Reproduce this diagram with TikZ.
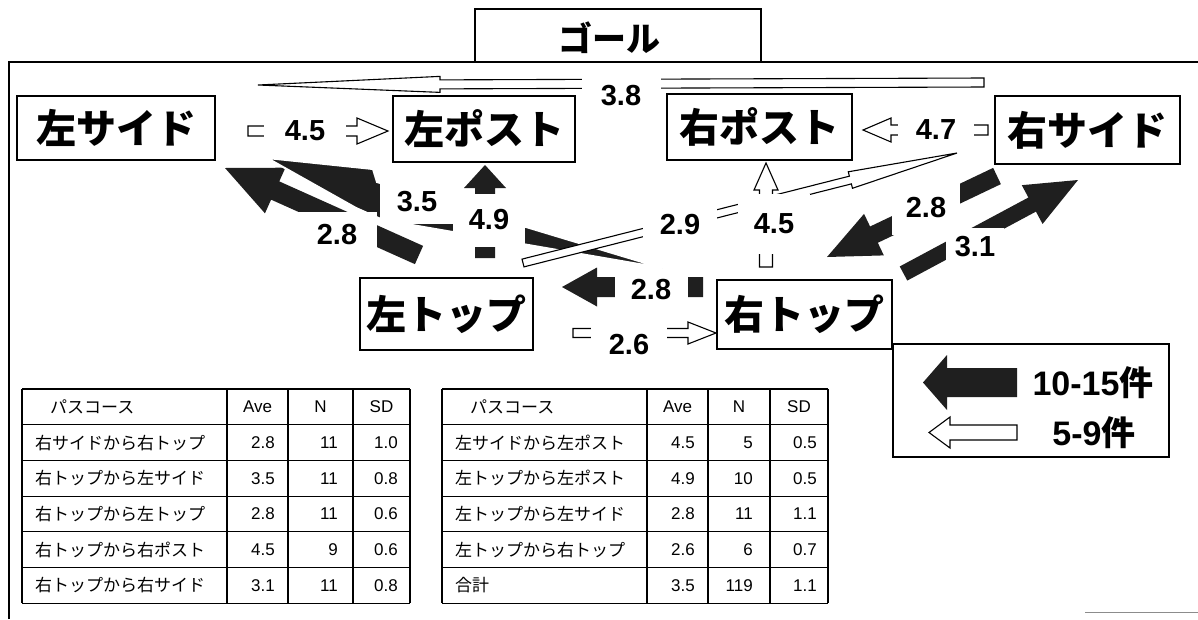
\documentclass[tikz,border=0pt]{standalone}
\usepackage{fontspec}
\setmainfont{Liberation Sans}
\newfontfamily\jp{Noto Sans CJK JP}
\usetikzlibrary{calc}

% block arrow: style, from, to, shaft half width, head half width, head length
\newcommand\blockarrow[6]{%
  \path[#1] ($(#2)!#4!90:(#3)$)
   -- ($(#3)!#6!(#2)!#4!-90:(#2)$)
   -- ($(#3)!#6!(#2)!#5!-90:(#2)$)
   -- (#3)
   -- ($(#3)!#6!(#2)!#5!90:(#2)$)
   -- ($(#3)!#6!(#2)!#4!90:(#2)$)
   -- ($(#2)!#4!-90:(#3)$) -- cycle;}

\tikzset{
  place/.style={draw, line width=1.3pt, fill=white, inner sep=0pt,
    font=\jp\bfseries\fontsize{40}{44}\selectfont},
  lbl/.style={fill=white, inner sep=0pt, font=\bfseries\fontsize{29}{32}\selectfont},
  blk/.style={fill=black!88},
  hol/.style={fill=white, draw=black, line width=1.1pt, line join=miter},
  tbl/.style={line width=1.2pt},
  jcell/.style={inner sep=0pt, font=\jp\fontsize{17}{20}\selectfont},
  ncell/.style={inner sep=0pt, font=\fontsize{17}{20}\selectfont},
  legtxt/.style={inner sep=0pt, font=\bfseries\fontsize{34}{38}\selectfont},
}

\begin{document}
\begin{tikzpicture}[x=1pt,y=-1pt]
\useasboundingbox (0,0) rectangle (1198,619);
\fill[white] (0,0) rectangle (1198,619);

% field and goal
\draw[line width=1.3pt] (9,619) -- (9,62) -- (1198,62);
\draw[black!45, line width=1pt] (1085,612) -- (1198,612);
\node[draw, line width=1.3pt, minimum width=286pt, minimum height=53pt, inner sep=0pt] (goalbox) at (618,35.5) {};
\node[inner sep=0pt, font=\jp\bfseries\fontsize{34}{38}\selectfont] (goaltxt) at (609,38) {ゴール};

% places
\node[place, minimum width=198pt, minimum height=64pt] (ls) at (116,128) {左サイド};
\node[place, minimum width=182pt, minimum height=66pt] (lp) at (484,129) {左ポスト};
\node[place, minimum width=185pt, minimum height=66pt] (rp) at (759.5,127) {右ポスト};
\node[place, minimum width=185pt, minimum height=68pt] (rs) at (1087.5,130) {右サイド};
\node[place, minimum width=173pt, minimum height=72pt] (lt) at (446.5,314) {左トップ};
\node[place, minimum width=175pt, minimum height=69pt] (rt) at (804.5,314.5) {右トップ};

% arrow end points
\coordinate (a28aS) at (419,255);   \coordinate (a28aE) at (225,168);
\coordinate (a49S) at (485,258);    \coordinate (a49E) at (485,165);
\coordinate (a28bS) at (703,287);   \coordinate (a28bE) at (562,287);
\coordinate (a29S) at (523,263);    \coordinate (a29E) at (957,153);
\coordinate (a45bS) at (766,267);   \coordinate (a45bE) at (766,163);
\coordinate (a28cS) at (997,176);   \coordinate (a28cE) at (827,257);
\coordinate (a31S) at (903.5,273.5);\coordinate (a31E) at (1078,180);
\coordinate (a38S) at (984,82.5);   \coordinate (a38E) at (258,85);
\coordinate (a45aS) at (248,131);   \coordinate (a45aE) at (388,131);
\coordinate (a47S) at (988,130);    \coordinate (a47E) at (863,130);
\coordinate (a26S) at (573,333);    \coordinate (a26E) at (716,333);

% left cluster
\blockarrow{blk}{a28aS}{a28aE}{10pt}{25pt}{55pt}
\fill[blk, draw=white, line width=2pt] (267,158) -- (373,169) -- (377,182) -- (662,268) -- (383,220) -- (356,208) -- cycle;
\blockarrow{blk}{a49S}{a49E}{10pt}{21pt}{23pt}
\node[lbl, minimum width=75pt, minimum height=44pt] (l35) at (417,202) {3.5};
\node[lbl, minimum width=79pt, minimum height=46pt] (l28a) at (337,235) {2.8};
\node[lbl, minimum width=72pt, minimum height=53pt] (l49) at (489,220) {4.9};

% right top to left top
\blockarrow{blk}{a28bS}{a28bE}{10pt}{19.5pt}{35pt}
\node[lbl, minimum width=73pt, minimum height=34pt] (l28b) at (651,290) {2.8};

% left top to right side, right top to right post
\blockarrow{hol}{a29S}{a29E}{4pt}{8.5pt}{110pt}
\blockarrow{hol}{a45bS}{a45bE}{6.5pt}{12pt}{27pt}
\node[lbl, minimum width=74pt, minimum height=40pt] (l29) at (680,225) {2.9};
\node[lbl, minimum width=72pt, minimum height=60pt] (l45b) at (774,224) {4.5};

% right side cluster
\blockarrow{blk}{a28cS}{a28cE}{9pt}{23pt}{52pt}
\blockarrow{blk}{a31S}{a31E}{8pt}{22pt}{52pt}
\node[lbl, minimum width=68pt, minimum height=54pt] (l28c) at (926,208) {2.8};
\node[lbl, minimum width=58pt, minimum height=38pt] (l31) at (975,247) {3.1};

% other hollow arrows
\blockarrow{hol}{a38S}{a38E}{4.5pt}{8pt}{182pt}
\node[lbl, minimum width=79pt, minimum height=42pt] (l38) at (621,96) {3.8};
\blockarrow{hol}{a45aS}{a45aE}{5pt}{13pt}{31pt}
\node[lbl, minimum width=82pt, minimum height=34pt] (l45a) at (305,131) {4.5};
\blockarrow{hol}{a47S}{a47E}{5pt}{12pt}{28pt}
\node[lbl, minimum width=76pt, minimum height=34pt] (l47) at (936,130) {4.7};
\blockarrow{hol}{a26S}{a26E}{4.5pt}{11pt}{28pt}
\node[lbl, minimum width=76pt, minimum height=46pt] (l26) at (629,345) {2.6};

% legend
\node[draw, line width=1.3pt, minimum width=276pt, minimum height=113pt, inner sep=0pt] (legend) at (1031,400.5) {};
\coordinate (lgbS) at (1017,382.5); \coordinate (lgbE) at (923,382.5);
\coordinate (lgwS) at (1017,432.5); \coordinate (lgwE) at (929,432.5);
\blockarrow{blk}{lgbS}{lgbE}{14.5pt}{27.5pt}{24pt}
\blockarrow{hol}{lgwS}{lgwE}{7.5pt}{15.5pt}{21pt}
\node[legtxt] (lg1) at (1093,383) {10-15{\jp 件}};
\node[legtxt] (lg2) at (1094,433) {5-9{\jp 件}};

% table 1
\foreach \x in {22,227,288,353,410} \draw[tbl] (\x,389) -- (\x,603.2);
\foreach \k in {0,...,6} \draw[tbl] (22,{389+35.7*\k}) -- (410,{389+35.7*\k});
\node[jcell, anchor=west] (ta-0-1) at (50,406.85) {パスコース};
\node[ncell] (ta-0-2) at (257.5,406.85) {Ave};
\node[ncell] (ta-0-3) at (320.5,406.85) {N};
\node[ncell] (ta-0-4) at (381.5,406.85) {SD};
\foreach \nm/\av/\nn/\sd [count=\i] in {右サイドから右トップ/2.8/11/1.0, 右トップから左サイド/3.5/11/0.8, 右トップから左トップ/2.8/11/0.6, 右トップから右ポスト/4.5/9/0.6, 右トップから右サイド/3.1/11/0.8}{
  \pgfmathsetmacro\yy{406.85+35.7*\i}
  \node[jcell, anchor=west] (ta-\i-1) at (35,\yy) {\nm};
  \node[ncell, anchor=east] (ta-\i-2) at (275,\yy) {\av};
  \node[ncell, anchor=east] (ta-\i-3) at (338,\yy) {\nn};
  \node[ncell, anchor=east] (ta-\i-4) at (398,\yy) {\sd};
}

% table 2
\foreach \x in {442,647,708,770,828} \draw[tbl] (\x,389) -- (\x,603.2);
\foreach \k in {0,...,6} \draw[tbl] (442,{389+35.7*\k}) -- (828,{389+35.7*\k});
\node[jcell, anchor=west] (tb-0-1) at (470,406.85) {パスコース};
\node[ncell] (tb-0-2) at (677.5,406.85) {Ave};
\node[ncell] (tb-0-3) at (739,406.85) {N};
\node[ncell] (tb-0-4) at (799,406.85) {SD};
\foreach \nm/\av/\nn/\sd [count=\i] in {左サイドから左ポスト/4.5/5/0.5, 左トップから左ポスト/4.9/10/0.5, 左トップから左サイド/2.8/11/1.1, 左トップから右トップ/2.6/6/0.7, 合計/3.5/119/1.1}{
  \pgfmathsetmacro\yy{406.85+35.7*\i}
  \node[jcell, anchor=west] (tb-\i-1) at (455,\yy) {\nm};
  \node[ncell, anchor=east] (tb-\i-2) at (695,\yy) {\av};
  \node[ncell, anchor=east] (tb-\i-3) at (753,\yy) {\nn};
  \node[ncell, anchor=east] (tb-\i-4) at (817,\yy) {\sd};
}
\end{tikzpicture}
\end{document}
